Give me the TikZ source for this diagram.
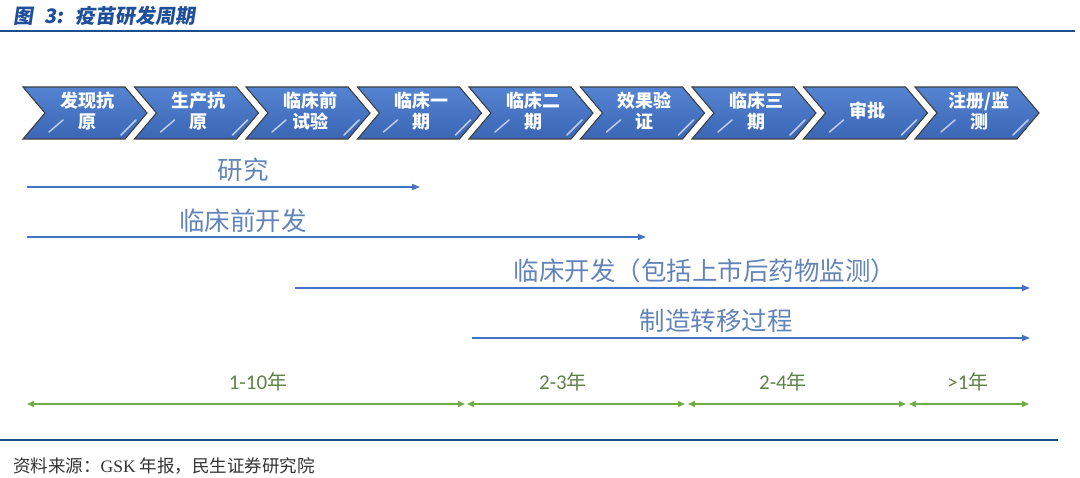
\documentclass[tikz,border=0pt]{standalone}
\usepackage{fontspec}
\setmainfont{Liberation Serif}
\newfontfamily\cjk{Noto Sans CJK SC}
\newfontfamily\titlefont[FakeSlant=0.15]{Noto Sans CJK SC}
\newfontfamily\numfont{Carlito}
\newfontfamily\latinserif{Liberation Serif}
\usetikzlibrary{arrows.meta}
\definecolor{titleblue}{HTML}{1F4E9A}
\definecolor{ruleblue}{HTML}{1F4E8C}
\definecolor{chevtop}{HTML}{5584D2}
\definecolor{chevbot}{HTML}{3A66B4}
\definecolor{arrblue}{HTML}{4472C4}
\definecolor{lblblue}{HTML}{6384BA}
\definecolor{grn}{HTML}{70AD47}
\definecolor{grntxt}{HTML}{5F8248}
\definecolor{srcgray}{HTML}{333333}
\tikzset{
  chevron/.style={draw=black!75, line width=1.1pt, top color=chevtop, bottom color=chevbot, line join=miter},
  gloss/.style={draw=white!85!chevtop, line width=1.5pt, opacity=0.75, line cap=round},
  chevtext/.style={text=white, font=\cjk\bfseries\fontsize{18}{21}\selectfont, align=center},
  barrow/.style={draw=arrblue, line width=1.5pt, -{Triangle[length=8pt,width=6pt]}},
  blabel/.style={text=lblblue, font=\cjk\fontsize{25.5}{28}\selectfont},
  garrow/.style={draw=grn, line width=1.5pt, {Triangle[length=7pt,width=6pt]}-{Triangle[length=7pt,width=6pt]}},
  glabel/.style={text=grntxt, font=\numfont\fontsize{21}{24}\selectfont},
  rulel/.style={draw=ruleblue, line width=1.7pt}
}
\begin{document}
\begin{tikzpicture}[x=1pt,y=-1pt]
\useasboundingbox (0,0) rectangle (1080,478);
% title
\node[anchor=west, text=titleblue, font=\titlefont\bfseries\fontsize{20}{23}\selectfont, inner sep=0] (title) at (13,16) {图\hspace{11pt}3:\hspace{12pt}疫苗研发周期};
\coordinate (tl0) at (0,31);
\coordinate (tl1) at (1075,31);
\draw[rulel] (tl0) -- (tl1);
% chevrons
\foreach \i/\txt in {0/{发现抗\\原},1/{生产抗\\原},2/{临床前\\试验},3/{临床一\\期},4/{临床二\\期},5/{效果验\\证},6/{临床三\\期},7/{审批},8/{注册/监\\测}}{
  \pgfmathsetmacro{\xo}{23+111.5*\i}
  \draw[chevron] (\xo,87) -- ++(102,0) -- ++(22,26) -- ++(-22,26) -- ++(-102,0) -- ++(22,-26) -- cycle;
  \draw[gloss] (\xo+26,132) -- (\xo+40,120);
  \draw[gloss] (\xo+98,135) -- (\xo+113,120);
  \node[chevtext, inner sep=0] (c\i) at (\xo+64,111) {\txt};
}
% blue arrows
\coordinate (a1s) at (27,187);   \coordinate (a1e) at (420,187);
\coordinate (a2s) at (27,237);   \coordinate (a2e) at (646,237);
\coordinate (a3s) at (295,288);  \coordinate (a3e) at (1030,288);
\coordinate (a4s) at (472,338);  \coordinate (a4e) at (1030,338);
\draw[barrow] (a1s) -- (a1e);
\draw[barrow] (a2s) -- (a2e);
\draw[barrow] (a3s) -- (a3e);
\draw[barrow] (a4s) -- (a4e);
\node[blabel] (l1) at (243,170) {研究};
\node[blabel] (l2) at (243,221) {临床前开发};
\node[blabel] (l3) at (705,271) {临床开发（包括上市后药物监测）};
\node[blabel] (l4) at (716,321) {制造转移过程};
% green arrows
\coordinate (g0) at (27,404);
\coordinate (g1a) at (465,404); \coordinate (g1b) at (467,404);
\coordinate (g2a) at (685,404); \coordinate (g2b) at (688,404);
\coordinate (g3a) at (906,404); \coordinate (g3b) at (909,404);
\coordinate (g4) at (1029,404);
\draw[garrow] (g0) -- (g1a);
\draw[garrow] (g1b) -- (g2a);
\draw[garrow] (g2b) -- (g3a);
\draw[garrow] (g3b) -- (g4);
\node[glabel] (y1) at (258,382) {1-10{\cjk\fontsize{20}{24}\selectfont 年}};
\node[glabel] (y2) at (563,382) {2-3{\cjk\fontsize{20}{24}\selectfont 年}};
\node[glabel] (y3) at (783,382) {2-4{\cjk\fontsize{20}{24}\selectfont 年}};
\node[glabel] (y4) at (968,382) {>1{\cjk\fontsize{20}{24}\selectfont 年}};
% bottom rule and source
\coordinate (bl0) at (0,440);
\coordinate (bl1) at (1058,440);
\draw[rulel] (bl0) -- (bl1);
\node[anchor=west, text=srcgray, font=\cjk\fontsize{17.5}{20}\selectfont, inner sep=0] (src) at (13,466) {资料来源：{\latinserif GSK} 年报，民生证券研究院};
\end{tikzpicture}
\end{document}
